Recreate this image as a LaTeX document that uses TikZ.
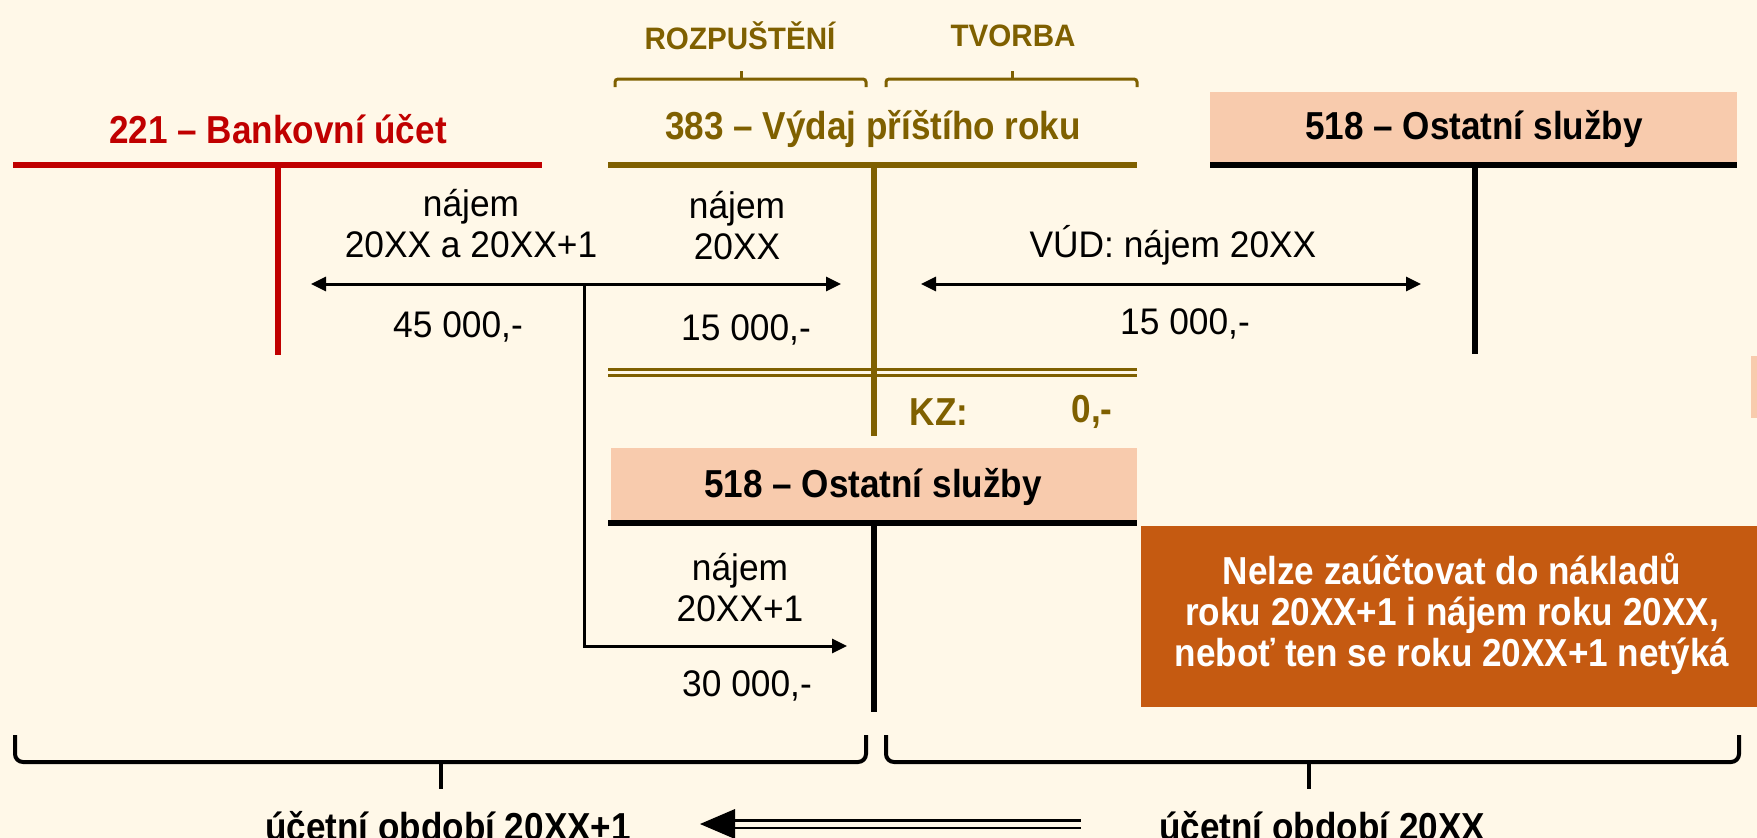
\documentclass[tikz,border=0pt]{standalone}
\usepackage{fontspec}
\setmainfont{Liberation Sans}[FakeStretch=0.955]
\newfontfamily\hdfont{Liberation Sans}[FakeStretch=0.9]
\usetikzlibrary{arrows.meta}
\definecolor{bgc}{HTML}{FFF8E8}
\definecolor{brn}{HTML}{7F6000}
\definecolor{rd}{HTML}{C00000}
\definecolor{peach}{HTML}{F8CBAD}
\definecolor{org}{HTML}{C55A11}
\begin{document}
\begin{tikzpicture}[x=1pt,y=-1pt,
  titletext/.style={font=\hdfont\fontsize{39}{41}\selectfont\bfseries, inner sep=0pt},
  smalltitle/.style={font=\fontsize{31}{35}\selectfont\bfseries, inner sep=0pt, text=brn},
  bodytext/.style={font=\fontsize{37}{41}\selectfont, align=center, inner sep=0pt},
  tline/.style={line width=6.5pt},
  arr/.style={line width=3pt, -{Triangle[length=15pt,width=14pt]}},
  dblarr/.style={line width=3pt, {Triangle[length=15pt,width=14pt]}-{Triangle[length=15pt,width=14pt]}},
  bracetop/.style={brn, line width=3pt, rounded corners=3pt},
  bracebot/.style={line width=4pt, rounded corners=8pt},
  peachbox/.style={fill=peach, draw=none},
]
\fill[bgc] (0,0) rectangle (1757,838);
\useasboundingbox (0,0) rectangle (1757,838);

% top labels and braces
\node[smalltitle] (rozp) at (740,36) {ROZPUŠTĚNÍ};
\node[smalltitle] (tvor) at (1013,36) {TVORBA};
\draw[bracetop] (615,87) -- (615,79) -- (866,79) -- (866,87);
\draw[bracetop] (741,79) -- (741,71);
\draw[bracetop] (886,87) -- (886,79) -- (1137,79) -- (1137,87);
\draw[bracetop] (1012,79) -- (1012,71);

% account 221
\node[titletext, rd] (t221) at (278,129) {221 – Bankovní účet};
\draw[tline, rd] (13,165) -- (542,165);
\draw[tline, rd] (278,165) -- (278,355);

% account 383
\node[titletext, brn] (t383) at (873,129) {383 – Výdaj příštího roku};
\draw[tline, brn] (608,165) -- (1137,165);
\draw[tline, brn] (874,165) -- (874,436);
\draw[brn, line width=2.5pt] (608,369.5) -- (1137,369.5);
\draw[brn, line width=2.5pt] (608,375.5) -- (1137,375.5);
\node[titletext, brn] (kz) at (939,412) {KZ:};
\node[titletext, brn] (kzv) at (1092,412) {0,-};

% account 518 right
\fill[peachbox] (1210,92) rectangle (1737,165);
\node[titletext] (t518a) at (1474,129) {518 – Ostatní služby};
\draw[tline] (1210,165) -- (1737,165);
\draw[tline] (1475,165) -- (1475,354);

% account 518 middle
\fill[peachbox] (611,448) rectangle (1137,521);
\node[titletext] (t518b) at (873,487) {518 – Ostatní služby};
\draw[tline] (608,523) -- (1137,523);
\draw[tline] (874,523) -- (874,712);

% small peach sliver at right edge
\fill[peach] (1751,356) rectangle (1757,418);

% texts
\node[bodytext] (n1) at (471,224) {nájem\\20XX a 20XX+1};
\node[bodytext] (v1) at (458,327) {45 000,-};
\node[bodytext] (n2) at (737,226) {nájem\\20XX};
\node[bodytext] (v2) at (746,330) {15 000,-};
\node[bodytext] (n3) at (1173,245) {VÚD: nájem 20XX};
\node[bodytext] (v3) at (1185,324) {15 000,-};
\node[bodytext] (n4) at (740,588) {nájem\\20XX+1};
\node[bodytext] (v4) at (747,686) {30 000,-};

% connectors
\coordinate (jn) at (584,284);
\coordinate (a221) at (311,284);
\coordinate (a383) at (841,284);
\coordinate (a518b) at (847,646);
\coordinate (vudl) at (921,284);
\coordinate (vudr) at (1421,284);
\draw[arr] (jn) -- (a221);
\draw[arr] (jn) -- (a383);
\draw[arr] (jn) |- (a518b);
\draw[dblarr] (vudl) -- (vudr);

% orange box
\node[fill=org, minimum width=616pt, minimum height=181pt, inner sep=0pt, anchor=north west] (obox) at (1141,526) {};
\node[font=\hdfont\fontsize{39}{41}\selectfont\bfseries, text=white, align=center, inner sep=0pt] (otext) at (1452,614) {Nelze zaúčtovat do nákladů\\roku 20XX+1 i nájem roku 20XX,\\neboť ten se roku 20XX+1 netýká};

% bottom braces
\draw[bracebot] (15,735) -- (15,762) -- (866,762) -- (866,735);
\draw[bracebot] (441,762) -- (441,789);
\draw[bracebot] (886,735) -- (886,762) -- (1739,762) -- (1739,735);
\draw[bracebot] (1309,762) -- (1309,789);

\node[titletext] (p1) at (448,826) {účetní období 20XX+1};
\node[titletext] (p2) at (1322,826) {účetní období 20XX};

% bottom double arrow
\coordinate (bstart) at (1081,824);
\coordinate (bend) at (735,824);
\draw[line width=2.5pt, double=bgc, double distance=5pt] (bstart) -- (bend);
\fill (bend) ++(0,-15) -- ++(0,30) -- (700,824) -- cycle;
\end{tikzpicture}
\end{document}
